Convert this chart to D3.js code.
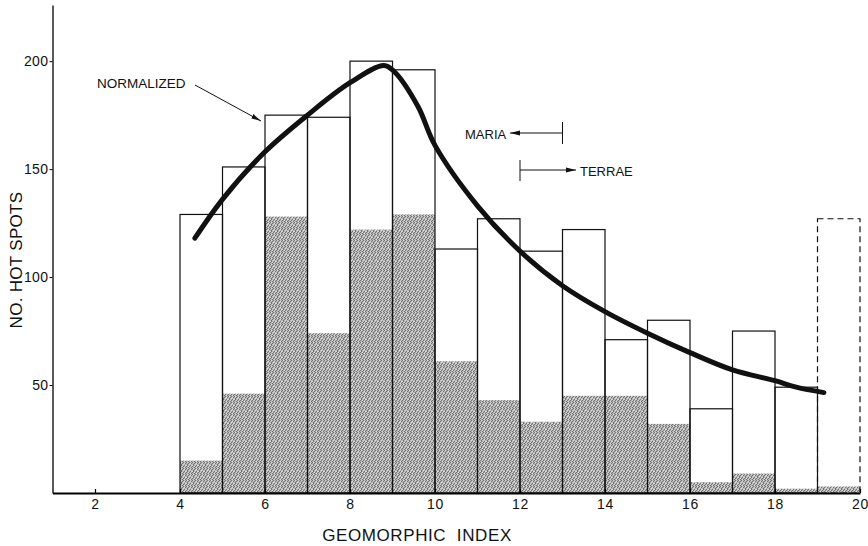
<!DOCTYPE html>
<html>
<head>
<meta charset="utf-8">
<script src="https://cdn.jsdelivr.net/npm/d3@7"></script>
<style>
  body { margin: 0; background: #fff; }
  svg { display: block; }
  text { font-family: "Liberation Sans", Arial, sans-serif; fill: #111; }
</style>
</head>
<body>
<script>
// geomorphic index bins (left edge of each unit-wide bin)
const binStart = [4, 5, 6, 7, 8, 9, 10, 11, 12, 13, 14, 15, 16, 17, 18, 19]
// total hot spots per bin (outlined bars)
const totalCounts = [129, 151, 175, 174, 200, 196, 113, 127, 112, 122, 71, 80, 39, 75, 49, 127]
// shaded part of each bar
const shadedCounts = [15, 46, 128, 74, 122, 129, 61, 43, 33, 45, 45, 32, 5, 9, 2, 3]
// last bin is drawn dashed
const dashedBin = [false, false, false, false, false, false, false, false, false, false, false, false, false, false, false, true]

// normalized curve
const curveX = [4.35, 5, 6, 7, 8, 8.8, 9.05, 9.6, 10, 11, 12, 13, 14, 15, 16, 17, 18, 18.5, 19.15]
const curveY = [118, 136, 158, 175, 190, 198, 195, 179, 161, 133, 112, 96, 84, 74, 65, 57, 52, 49, 46.5]

const xTicks = [2, 4, 6, 8, 10, 12, 14, 16, 18, 20]
const yTicks = [50, 100, 150, 200]

const width = 868, height = 546

const x = d3.scaleLinear().domain([1, 20]).range([52.5, 860])
const y = d3.scaleLinear().domain([0, 226]).range([493, 5])

const svg = d3.select("body").append("svg")
  .attr("width", width)
  .attr("height", height)

const defs = svg.append("defs")

// stipple texture for the shaded part (fixed dot layout)
const pat = defs.append("pattern")
  .attr("id", "stipple")
  .attr("width", 6).attr("height", 6)
  .attr("patternUnits", "userSpaceOnUse")
pat.append("rect").attr("width", 6).attr("height", 6).attr("fill", "#b6b6b6")
const darkDots = [[0, 0], [3, 0], [2, 1], [5, 1], [1, 2], [4, 3], [0, 4], [3, 4], [2, 5], [5, 5], [1, 3]]
darkDots.forEach(([px, py]) => {
  pat.append("rect").attr("x", px).attr("y", py).attr("width", 1).attr("height", 1).attr("fill", "#707070")
})
const lightDots = [[1, 0], [4, 1], [3, 2], [0, 3], [5, 3], [2, 4], [4, 5]]
lightDots.forEach(([px, py]) => {
  pat.append("rect").attr("x", px).attr("y", py).attr("width", 1).attr("height", 1).attr("fill", "#dcdcdc")
})

defs.append("marker")
  .attr("id", "arrow")
  .attr("viewBox", "0 0 10 6")
  .attr("refX", 10).attr("refY", 3)
  .attr("markerWidth", 10).attr("markerHeight", 6)
  .attr("markerUnits", "userSpaceOnUse")
  .attr("orient", "auto")
  .append("path")
  .attr("d", "M0,0.6 L10,3 L0,5.4 Z")
  .attr("fill", "#111")

const bins = binStart.map((b, i) => ({
  x0: b, x1: b + 1, total: totalCounts[i], shaded: shadedCounts[i], dashed: dashedBin[i]
}))

// shaded fill
svg.append("g")
  .selectAll("rect")
  .data(bins)
  .join("rect")
    .attr("x", d => x(d.x0))
    .attr("width", d => x(d.x1) - x(d.x0))
    .attr("y", d => y(d.shaded))
    .attr("height", d => y(0) - y(d.shaded))
    .attr("fill", "url(#stipple)")

// bar outlines
svg.append("g")
  .attr("fill", "none")
  .attr("stroke", "#111")
  .attr("stroke-width", 1.2)
  .selectAll("rect")
  .data(bins)
  .join("rect")
    .attr("x", d => x(d.x0))
    .attr("width", d => x(d.x1) - x(d.x0))
    .attr("y", d => y(d.total))
    .attr("height", d => y(0) - y(d.total))
    .attr("stroke-dasharray", d => d.dashed ? "6,4" : null)

// axes
const yAxis = svg.append("g")
  .attr("transform", `translate(${x(1)},0)`)
  .call(d3.axisLeft(y).tickValues(yTicks).tickSize(3).tickSizeOuter(0).tickPadding(1))
yAxis.select(".domain").attr("stroke-width", 1.3)
yAxis.selectAll("text").attr("font-size", 14).attr("letter-spacing", 0.4).attr("fill", "#111")

const xAxis = svg.append("g")
  .attr("transform", `translate(0,${y(0)})`)
  .call(d3.axisBottom(x).tickValues(xTicks).tickSizeInner(-4).tickSizeOuter(0).tickPadding(6))
xAxis.select(".domain").attr("stroke-width", 2)
xAxis.selectAll("text").attr("font-size", 14).attr("letter-spacing", 0.8).attr("fill", "#111")
xAxis.selectAll(".tick line").attr("stroke-width", 1.2)

// normalized curve
const curvePts = curveX.map((v, i) => [v, curveY[i]])
svg.append("path")
  .datum(curvePts)
  .attr("fill", "none")
  .attr("stroke", "#111")
  .attr("stroke-width", 5)
  .attr("stroke-linecap", "round")
  .attr("stroke-linejoin", "round")
  .attr("d", d3.line().x(d => x(d[0])).y(d => y(d[1])).curve(d3.curveCatmullRom.alpha(0.5)))

// axis titles
svg.append("text")
  .attr("x", 417).attr("y", 541)
  .attr("text-anchor", "middle")
  .attr("font-size", 17)
  .attr("letter-spacing", 0.6)
  .attr("xml:space", "preserve")
  .text("GEOMORPHIC  INDEX")

svg.append("text")
  .attr("transform", "translate(22,260) rotate(-90)")
  .attr("text-anchor", "middle")
  .attr("font-size", 17)
  .attr("letter-spacing", 0.3)
  .text("NO. HOT SPOTS")

// annotations
svg.append("text")
  .attr("x", 97).attr("y", 87.5)
  .attr("font-size", 13.5)
  .text("NORMALIZED")
svg.append("line")
  .attr("x1", 195).attr("y1", 85)
  .attr("x2", x(6) - 4).attr("y2", 121)
  .attr("stroke", "#111").attr("stroke-width", 1)
  .attr("marker-end", "url(#arrow)")

// MARIA <--|
svg.append("text")
  .attr("x", 465).attr("y", 138.5)
  .attr("font-size", 13)
  .text("MARIA")
svg.append("line")
  .attr("x1", x(13)).attr("x2", x(13))
  .attr("y1", 122).attr("y2", 144)
  .attr("stroke", "#111").attr("stroke-width", 1)
svg.append("line")
  .attr("x1", x(13)).attr("y1", 133)
  .attr("x2", 510).attr("y2", 133)
  .attr("stroke", "#111").attr("stroke-width", 1)
  .attr("marker-end", "url(#arrow)")

// |--> TERRAE
svg.append("text")
  .attr("x", 580).attr("y", 175.5)
  .attr("font-size", 13)
  .text("TERRAE")
svg.append("line")
  .attr("x1", x(12)).attr("x2", x(12))
  .attr("y1", 160).attr("y2", 181)
  .attr("stroke", "#111").attr("stroke-width", 1)
svg.append("line")
  .attr("x1", x(12)).attr("y1", 170)
  .attr("x2", 576).attr("y2", 170)
  .attr("stroke", "#111").attr("stroke-width", 1)
  .attr("marker-end", "url(#arrow)")
</script>
</body>
</html>
